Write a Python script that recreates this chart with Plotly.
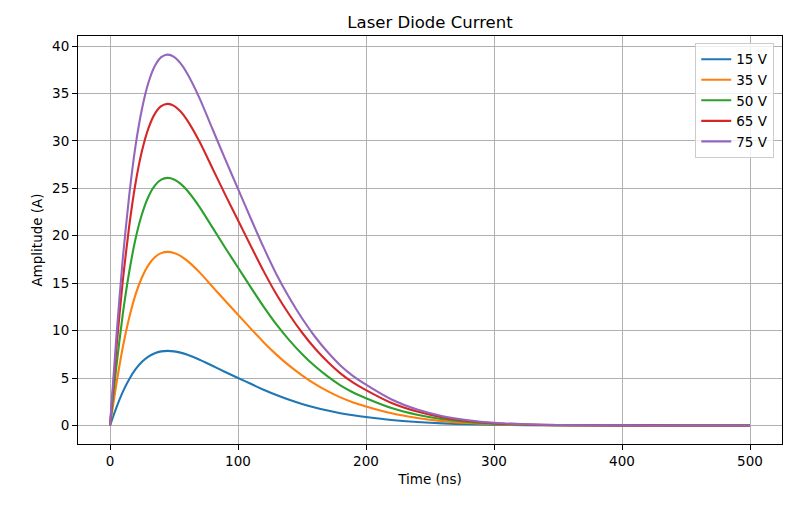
import plotly.graph_objects as go

time_ns = [0, 5, 10, 15, 20, 25, 30, 35, 40, 45, 50, 55, 60, 70, 80, 90, 100, 110, 120, 130,
           140, 150, 160, 170, 180, 190, 200, 220, 240, 260, 280, 300, 325, 350, 400, 450, 500]

i_15v = [0, 1.89, 3.54, 4.87, 5.93, 6.71, 7.26, 7.62, 7.81, 7.86, 7.81, 7.68, 7.47, 6.93, 6.29, 5.64,
         5.01, 4.39, 3.77, 3.21, 2.71, 2.27, 1.89, 1.57, 1.29, 1.07, 0.89, 0.58, 0.37, 0.22, 0.13,
         0.07, 0.03, 0.015, 0.0, 0.0, 0.0]
i_35v = [0, 4.39, 8.24, 11.35, 13.82, 15.63, 16.91, 17.73, 18.17, 18.3, 18.19, 17.88, 17.40, 16.14,
         14.64, 13.14, 11.68, 10.21, 8.78, 7.47, 6.31, 5.29, 4.39, 3.62, 2.96, 2.43, 2.01, 1.28,
         0.79, 0.46, 0.26, 0.13, 0.05, 0.02, 0.01, 0.0, 0.0]
i_50v = [0, 6.26, 11.75, 16.18, 19.71, 22.29, 24.12, 25.29, 25.92, 26.1, 25.94, 25.50, 24.82, 23.02,
         20.88, 18.74, 16.65, 14.56, 12.53, 10.65, 9.00, 7.54, 6.26, 5.17, 4.23, 3.47, 2.87, 1.83,
         1.12, 0.65, 0.37, 0.19, 0.08, 0.03, 0.01, 0.0, 0.0]
i_65v = [0, 8.14, 15.26, 21.02, 25.59, 28.95, 31.32, 32.85, 33.66, 33.9, 33.70, 33.12, 32.24, 29.90,
         27.12, 24.34, 21.63, 18.92, 16.27, 13.83, 11.70, 9.80, 8.14, 6.71, 5.49, 4.51, 3.73, 2.37,
         1.46, 0.85, 0.47, 0.24, 0.10, 0.04, 0.01, 0.0, 0.0]
i_75v = [0, 9.38, 17.60, 24.24, 29.52, 33.39, 36.13, 37.89, 38.83, 39.1, 38.87, 38.20, 37.18, 34.49,
         31.28, 28.07, 24.95, 21.82, 18.77, 15.95, 13.49, 11.30, 9.38, 7.74, 6.33, 5.20, 4.30, 2.74,
         1.68, 0.98, 0.55, 0.28, 0.12, 0.05, 0.01, 0.0, 0.0]

labels = ["15 V", "35 V", "50 V", "65 V", "75 V"]
series = [i_15v, i_35v, i_50v, i_65v, i_75v]
colors = ["#1f77b4", "#ff7f0e", "#2ca02c", "#d62728", "#9467bd"]

fig = go.Figure()
for name, ys, c in zip(labels, series, colors):
    fig.add_trace(go.Scatter(x=time_ns, y=ys, mode="lines", name=name,
                             line=dict(color=c, width=2.1, shape="spline", smoothing=0.6)))

font = "DejaVu Sans, sans-serif"
axis_common = dict(showgrid=True, gridcolor="#b0b0b0", gridwidth=1, zeroline=False,
                   showline=True, linecolor="black", linewidth=1, mirror=True,
                   ticks="outside", ticklen=5, tickcolor="black", tickwidth=1, automargin=False,
                   tickfont=dict(family=font, size=13.5, color="black"))

fig.update_layout(
    width=800, height=505,
    paper_bgcolor="white", plot_bgcolor="white",
    margin=dict(l=70, r=26, t=28, b=69),
    title=dict(text="Laser Diode Current", xref="paper", x=0.5, xanchor="center",
               yref="container", y=0.972, yanchor="middle",
               font=dict(family=font, size=16.5, color="black")),
    xaxis=dict(range=[-25, 525], tickmode="array", tickvals=[0, 100, 200, 300, 400, 500],
               title=dict(text="Time (ns)", font=dict(family=font, size=13.5, color="black"), standoff=6),
               **axis_common),
    yaxis=dict(range=[-1.955, 41.06], tickmode="array", tickvals=[0, 5, 10, 15, 20, 25, 30, 35, 40],
               title=dict(text="Amplitude (A)", font=dict(family=font, size=13.5, color="black"), standoff=6),
               **axis_common),
    legend=dict(x=0.989, xanchor="right", y=0.983, yanchor="top",
                bgcolor="rgba(255,255,255,0.8)", bordercolor="#cccccc", borderwidth=1,
                font=dict(family=font, size=13.5, color="black"), tracegroupgap=0,
                itemwidth=30),
    showlegend=True,
)

fig.write_html("out.html")
